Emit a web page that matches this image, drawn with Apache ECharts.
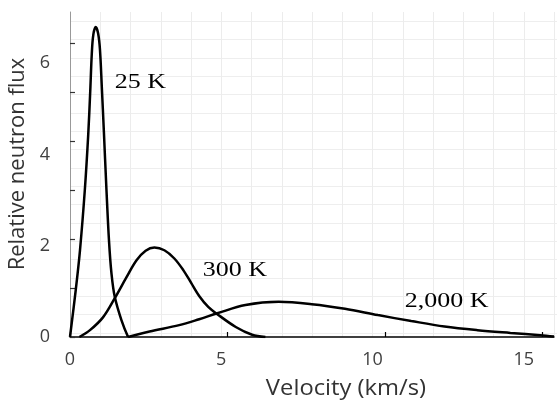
<!DOCTYPE html>
<html>
<head>
<meta charset="utf-8">
<script src="https://cdn.jsdelivr.net/npm/echarts@6/dist/echarts.min.js"></script>
<style>
html,body{margin:0;padding:0;background:#fff;}
#main{width:557px;height:402px;}
</style>
</head>
<body>
<div id="main"></div>
<script>
// 25 K 曲线
var x25 = [0, 0.19, 0.33, 0.49, 0.60, 0.67, 0.72, 0.77, 0.85, 0.93, 0.99, 1.05, 1.12, 1.20, 1.29, 1.37, 1.48, 1.70, 1.92];
var y25 = [0, 1.03, 1.90, 3.22, 4.40, 5.40, 6.20, 6.62, 6.79, 6.65, 6.30, 5.50, 4.50, 3.30, 2.10, 1.40, 0.88, 0.37, 0];
// 300 K 曲线
var x300 = [0.31, 0.66, 1.09, 1.48, 1.86, 2.20, 2.50, 2.79, 3.12, 3.45, 3.75, 4.01, 4.27, 4.57, 4.87, 5.48, 6.02, 6.46];
var y300 = [0, 0.15, 0.43, 0.85, 1.30, 1.68, 1.89, 1.96, 1.90, 1.72, 1.46, 1.18, 0.90, 0.66, 0.50, 0.22, 0.05, 0];
// 2,000 K 曲线
var x2000 = [1.92, 2.63, 3.61, 4.27, 4.87, 5.80, 6.90, 7.99, 9.09, 10.18, 11.28, 12.38, 13.47, 14.56, 15.55, 16.0];
var y2000 = [0, 0.12, 0.26, 0.39, 0.52, 0.70, 0.77, 0.72, 0.62, 0.48, 0.35, 0.23, 0.15, 0.09, 0.04, 0.01];

var xTickLabels = [0, 5, 10, 15];
var yTickLabels = [0, 2, 4, 6];

// 曲线旁的文字
var annoText = ["25 K", "300 K", "2,000 K"];
var annoX = [2.33, 5.45, 12.45];
var annoY = [5.58, 1.45, 0.77];

function pairs(xs, ys) {
	var arr = [];
	for (var i = 0; i < xs.length; i++) {
		arr.push([xs[i], ys[i]]);
	}
	return arr;
}

function curve(name, xs, ys) {
	return {
		name: name,
		type: 'line',
		xAxisIndex: 0,
		yAxisIndex: 0,
		data: pairs(xs, ys),
		smooth: 0.35,
		showSymbol: false,
		symbol: 'none',
		lineStyle: { color: '#000', width: 2.5 },
		z: 5
	};
}

var labelFont = { fontFamily: 'Open Sans', fontSize: 18, color: '#404040' };

var myChart = echarts.init(document.getElementById('main'));

var option = {
	animation: false,
	backgroundColor: '#fff',
	grid: [
		{ left: 70, right: 0, top: 12, bottom: 65 },      // 主坐标
		{ left: 70, right: 0, top: 21.4, bottom: 69 },    // 横向网格线
		{ left: 70, right: 14.5, top: 43.6, bottom: 65 }  // 刻度
	],
	xAxis: [
		{
			gridIndex: 0, type: 'value', min: 0, max: 16, interval: 1,
			axisLine: { show: true, lineStyle: { color: '#000', width: 1.5 } },
			axisTick: { show: false },
			splitLine: { show: true, lineStyle: { color: '#ececec', width: 1 } },
			axisLabel: Object.assign({
				margin: 14,
				formatter: function (v) { return xTickLabels.indexOf(v) >= 0 ? String(v) : ''; }
			}, labelFont)
		},
		{
			gridIndex: 1, type: 'value', min: 0, max: 1, show: false
		},
		{
			gridIndex: 2, type: 'value', min: 0, max: 15, interval: 5, position: 'bottom',
			axisLine: { show: false },
			axisTick: { show: true, inside: true, length: 5, lineStyle: { color: '#000', width: 1.2 } },
			axisLabel: { show: false },
			splitLine: { show: false }
		}
	],
	yAxis: [
		{
			gridIndex: 0, type: 'value', min: 0, max: 7.12, interval: 2,
			axisLine: { show: true, lineStyle: { color: '#999', width: 1 } },
			axisTick: { show: false },
			splitLine: { show: false },
			axisLabel: Object.assign({
				margin: 20,
				showMaxLabel: false,
				formatter: function (v) { return yTickLabels.indexOf(v) >= 0 ? String(v) : ''; }
			}, labelFont)
		},
		{
			gridIndex: 1, type: 'value', min: 0, max: 17, interval: 1,
			axisLine: { show: false },
			axisTick: { show: false },
			axisLabel: { show: false },
			splitLine: { show: true, lineStyle: { color: '#eeeeee', width: 1 } }
		},
		{
			gridIndex: 2, type: 'value', min: 0, max: 6, interval: 1, position: 'left',
			axisLine: { show: false },
			axisTick: { show: true, inside: true, length: 5, lineStyle: { color: '#333', width: 1.2 } },
			axisLabel: { show: false },
			splitLine: { show: false }
		}
	],
	series: [
		curve('25 K', x25, y25),
		curve('300 K', x300, y300),
		curve('2,000 K', x2000, y2000)
	]
};

myChart.setOption(option);

// 文字标注和坐标轴标题
var graphics = [];
for (var i = 0; i < annoText.length; i++) {
	var p = myChart.convertToPixel({ seriesIndex: 0 }, [annoX[i], annoY[i]]);
	graphics.push({
		type: 'text',
		x: p[0],
		y: p[1],
		scaleX: 1.3,
		z: 10,
		style: {
			text: annoText[i],
			font: '20px "Liberation Serif"',
			fill: '#000',
			align: 'center',
			verticalAlign: 'middle'
		}
	});
}
graphics.push({
	type: 'text', x: 346, y: 389, scaleX: 1.08, z: 10,
	style: { text: 'Velocity (km/s)', font: '22px "Open Sans"', fill: '#333', align: 'center', verticalAlign: 'middle' }
});
graphics.push({
	type: 'text', x: 18, y: 164, rotation: Math.PI / 2, z: 10,
	style: { text: 'Relative neutron flux', font: '22px "Open Sans"', fill: '#333', align: 'center', verticalAlign: 'middle' }
});

myChart.setOption({ graphic: graphics });
</script>
</body>
</html>
